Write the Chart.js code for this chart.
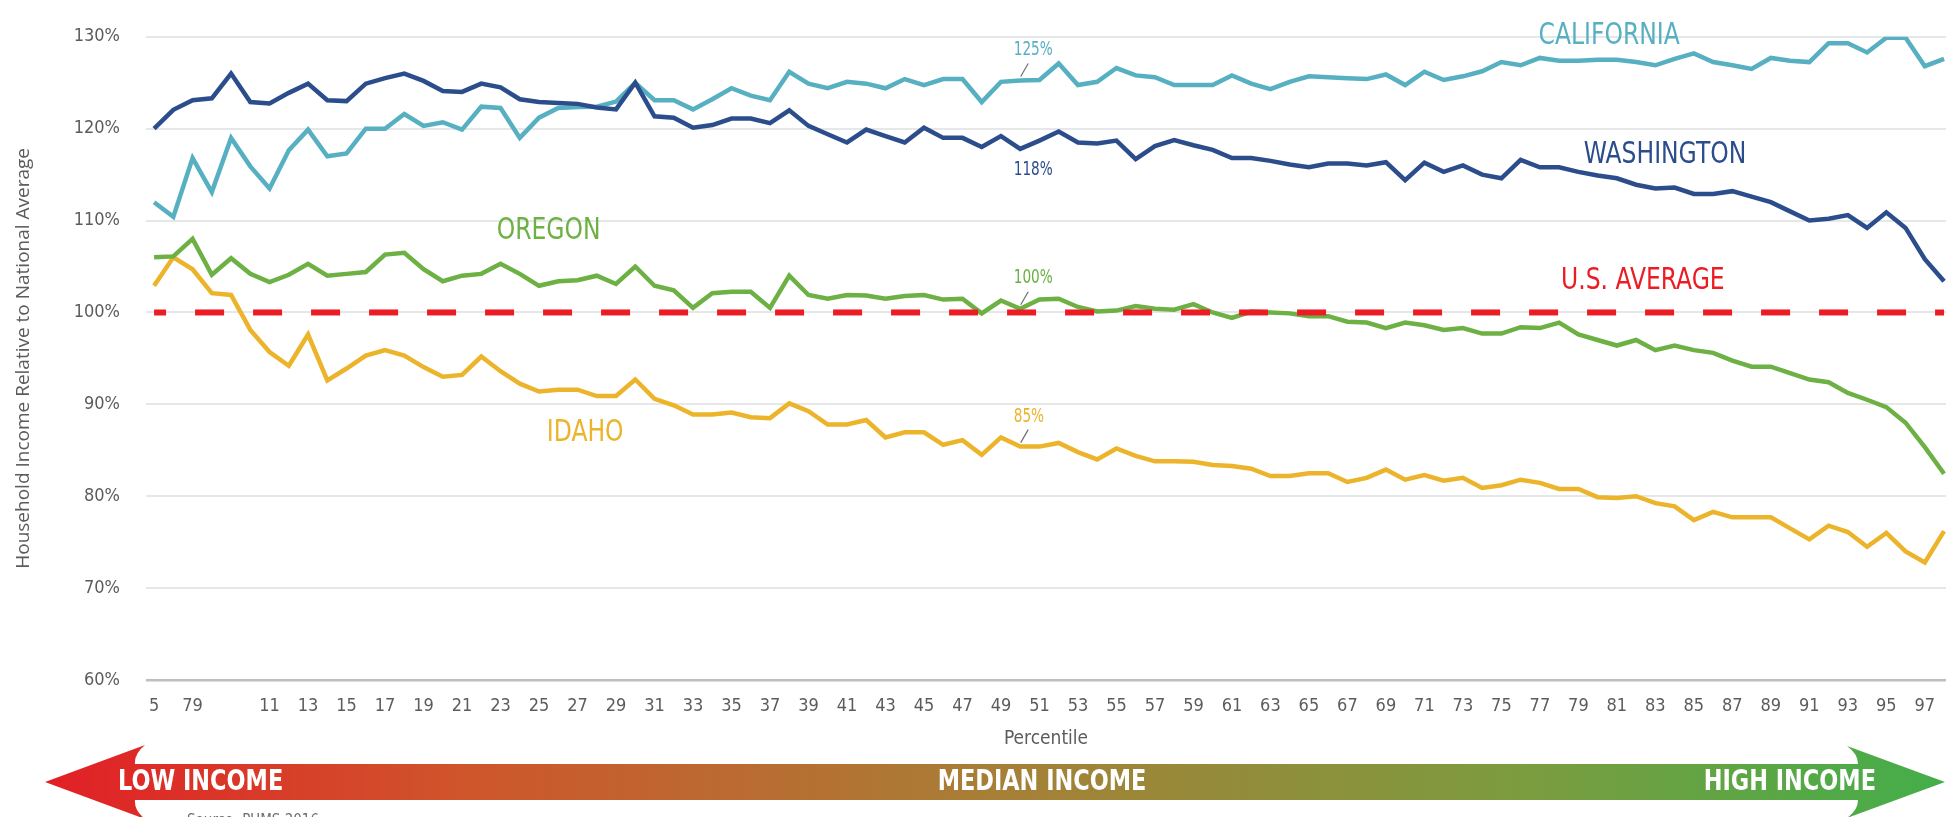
<!DOCTYPE html>
<html>
<head>
<meta charset="utf-8">
<title>Household Income Relative to National Average</title>
<script src="https://cdn.jsdelivr.net/npm/chart.js@4.4.1/dist/chart.umd.min.js"></script>
<style>
  html, body { margin: 0; padding: 0; background: #fff; }
  #chart { display: block; }
</style>
</head>
<body>
<canvas id="chart" width="1955" height="817"></canvas>
<script>
// percentiles 5..98, one point each
const percentiles = [
  5, 6, 7, 8, 9, 10, 11, 12, 13, 14, 15, 16, 17, 18, 19, 20, 21, 22, 23, 24,
  25, 26, 27, 28, 29, 30, 31, 32, 33, 34, 35, 36, 37, 38, 39, 40, 41, 42, 43, 44,
  45, 46, 47, 48, 49, 50, 51, 52, 53, 54, 55, 56, 57, 58, 59, 60, 61, 62, 63, 64,
  65, 66, 67, 68, 69, 70, 71, 72, 73, 74, 75, 76, 77, 78, 79, 80, 81, 82, 83, 84,
  85, 86, 87, 88, 89, 90, 91, 92, 93, 94, 95, 96, 97, 98
];

const california = [
  112.0, 110.4, 116.8, 113.1, 119.0, 115.9, 113.5, 117.65, 119.9, 117.0,
  117.3, 120.0, 120.0, 121.6, 120.3, 120.7, 119.9, 122.4, 122.25, 119.0,
  121.2, 122.25, 122.35, 122.4, 122.95, 125.0, 123.1, 123.1, 122.1, 123.2,
  124.4, 123.6, 123.1, 126.2, 124.9, 124.4, 125.1, 124.9, 124.4, 125.4,
  124.75, 125.4, 125.4, 122.9, 125.1, 125.25, 125.3, 127.1, 124.75, 125.1,
  126.6, 125.8, 125.6, 124.75, 124.75, 124.75, 125.8, 124.9, 124.3, 125.1,
  125.7, 125.6, 125.5, 125.4, 125.9, 124.75, 126.2, 125.3, 125.7, 126.25,
  127.25, 126.9, 127.7, 127.4, 127.4, 127.5, 127.5, 127.25, 126.9, 127.6,
  128.2, 127.25, 126.9, 126.5, 127.7, 127.4, 127.25, 129.3, 129.3, 128.3,
  129.9, 129.9, 126.8, 127.6
];

const washington = [
  120.0, 122.05, 123.1, 123.3, 126.0, 122.9, 122.75, 123.9, 124.9, 123.1,
  123.0, 124.9, 125.5, 126.0, 125.2, 124.1, 124.0, 124.9, 124.5, 123.2,
  122.9, 122.8, 122.7, 122.3, 122.1, 125.0, 121.35, 121.2, 120.1, 120.4,
  121.1, 121.1, 120.6, 122.0, 120.3, 119.4, 118.5, 119.9, 119.2, 118.5,
  120.1, 119.0, 119.0, 118.0, 119.2, 117.8, 118.7, 119.7, 118.5, 118.4,
  118.7, 116.7, 118.1, 118.75, 118.2, 117.7, 116.8, 116.8, 116.5, 116.1,
  115.8, 116.2, 116.2, 116.0, 116.35, 114.4, 116.3, 115.3, 116.0, 115.0,
  114.6, 116.6, 115.8, 115.8, 115.3, 114.9, 114.6, 113.9, 113.5, 113.6,
  112.9, 112.9, 113.2, 112.6, 112.0, 111.0, 110.0, 110.2, 110.6, 109.2,
  110.9, 109.2, 105.8, 103.4
];

const oregon = [
  106.0, 106.1, 108.0, 104.1, 105.9, 104.2, 103.3, 104.1, 105.3, 104.0,
  104.2, 104.4, 106.3, 106.5, 104.7, 103.4, 104.0, 104.2, 105.3, 104.2,
  102.9, 103.4, 103.5, 104.0, 103.1, 105.0, 102.9, 102.4, 100.5, 102.1,
  102.25, 102.25, 100.5, 104.0, 101.9, 101.5, 101.9, 101.85, 101.5, 101.8,
  101.9, 101.4, 101.5, 99.9, 101.3, 100.4, 101.4, 101.5, 100.6, 100.1,
  100.2, 100.7, 100.4, 100.3, 100.9, 100.0, 99.4, 100.1, 100.0, 99.9,
  99.6, 99.6, 99.0, 98.9, 98.3, 98.9, 98.6, 98.1, 98.3, 97.7,
  97.7, 98.4, 98.3, 98.9, 97.6, 97.0, 96.4, 97.0, 95.9, 96.4,
  95.9, 95.6, 94.75, 94.1, 94.1, 93.4, 92.7, 92.4, 91.25, 90.5,
  89.7, 88.0, 85.35, 82.45
];

const idaho = [
  102.9, 106.0, 104.7, 102.1, 101.9, 98.1, 95.7, 94.2, 97.6, 92.6,
  93.9, 95.3, 95.9, 95.3, 94.05, 93.0, 93.2, 95.2, 93.6, 92.25,
  91.4, 91.6, 91.6, 90.9, 90.9, 92.7, 90.6, 89.9, 88.9, 88.9,
  89.1, 88.6, 88.5, 90.1, 89.25, 87.8, 87.8, 88.3, 86.4, 86.95,
  86.95, 85.6, 86.1, 84.5, 86.4, 85.4, 85.4, 85.8, 84.8, 84.0,
  85.2, 84.4, 83.8, 83.8, 83.75, 83.4, 83.3, 83.0, 82.2, 82.2,
  82.5, 82.5, 81.55, 82.0, 82.9, 81.8, 82.3, 81.7, 82.0, 80.9,
  81.2, 81.8, 81.45, 80.8, 80.8, 79.9, 79.8, 80.0, 79.25, 78.9,
  77.4, 78.3, 77.7, 77.7, 77.7, 76.5, 75.3, 76.8, 76.1, 74.5,
  76.0, 74.0, 72.8, 76.2
];

const usAverage = 100;
const medianPercentile = 50;

// x tick labels as printed (7 and 9 ran together in the original)
const xTickValues = [5, 7, 11, 13, 15, 17, 19, 21, 23, 25, 27, 29, 31, 33, 35, 37, 39, 41, 43, 45,
  47, 49, 51, 53, 55, 57, 59, 61, 63, 65, 67, 69, 71, 73, 75, 77, 79, 81, 83, 85, 87, 89, 91, 93, 95, 97];
const xTickText = ['5', '79', '11', '13', '15', '17', '19', '21', '23', '25', '27', '29', '31', '33', '35', '37', '39', '41', '43', '45',
  '47', '49', '51', '53', '55', '57', '59', '61', '63', '65', '67', '69', '71', '73', '75', '77', '79', '81', '83', '85', '87', '89', '91', '93', '95', '97'];

const NARROW = '"Liberation Sans Narrow", "DejaVu Sans Condensed", "Roboto Condensed", sans-serif';
const GRAY = '#5b5c5e';
const COLORS = {
  california: '#57b0c2',
  washington: '#2c4d8c',
  oregon: '#6db044',
  idaho: '#ebb42b',
  us: '#ec1c24'
};

// state names, placed in data units
const stateLabels = [
  { text: 'CALIFORNIA', p: 80.6, v: 130.1, color: COLORS.california },
  { text: 'WASHINGTON', p: 83.5, v: 117.15, color: COLORS.washington },
  { text: 'U.S. AVERAGE', p: 82.35, v: 103.45, color: COLORS.us },
  { text: 'OREGON', p: 25.5, v: 108.8, color: COLORS.oregon },
  { text: 'IDAHO', p: 27.4, v: 86.9, color: COLORS.idaho }
];

// median callouts
const medianLabels = [
  { series: california, color: COLORS.california, dy: -31, leader: true },
  { series: washington, color: COLORS.washington, dy: 21, leader: false },
  { series: oregon, color: COLORS.oregon, dy: -31, leader: true },
  { series: idaho, color: COLORS.idaho, dy: -30, leader: true }
];

function toPoints(values) {
  return percentiles.map((p, i) => ({ x: p, y: values[i] }));
}

// squeeze text horizontally, the original uses a condensed face
function narrowText(ctx, text, x, y, align, sx) {
  ctx.save();
  ctx.translate(x, y);
  ctx.scale(sx, 1);
  ctx.textAlign = align;
  ctx.fillText(text, 0, 0);
  ctx.restore();
}

const labelsPlugin = {
  id: 'labelsPlugin',
  afterDatasetsDraw(chart) {
    const { ctx, scales: { x, y } } = chart;
    ctx.save();
    ctx.textBaseline = 'middle';

    ctx.font = '30px ' + NARROW;
    stateLabels.forEach(l => {
      ctx.fillStyle = l.color;
      narrowText(ctx, l.text, x.getPixelForValue(l.p), y.getPixelForValue(l.v), 'center', 0.87);
    });

    const mi = percentiles.indexOf(medianPercentile);
    const px = x.getPixelForValue(medianPercentile);
    ctx.font = '20px ' + NARROW;
    medianLabels.forEach(l => {
      const val = l.series[mi];
      const py = y.getPixelForValue(val);
      ctx.fillStyle = l.color;
      narrowText(ctx, Math.round(val) + '%', px - 6.5, py + l.dy, 'left', 0.76);
      if (l.leader) {
        ctx.strokeStyle = '#6d6e71';
        ctx.lineWidth = 1.2;
        ctx.beginPath();
        ctx.moveTo(px + 8, py - 17);
        ctx.lineTo(px + 0.5, py - 4);
        ctx.stroke();
      }
    });
    ctx.restore();
  },
  afterDraw(chart) {
    // low -> high income arrow under the axis
    const { ctx } = chart;
    ctx.save();
    const g = ctx.createLinearGradient(45, 0, 1945, 0);
    g.addColorStop(0, '#e21f26');
    g.addColorStop(0.22, '#cf552b');
    g.addColorStop(0.5, '#a77f36');
    g.addColorStop(0.78, '#7b9c3f');
    g.addColorStop(1, '#43ae4a');
    ctx.fillStyle = g;
    ctx.beginPath();
    ctx.moveTo(45, 782);
    ctx.lineTo(145, 745);
    ctx.quadraticCurveTo(134, 754, 135, 764);
    ctx.lineTo(1858, 764);
    ctx.quadraticCurveTo(1858, 754, 1847, 746);
    ctx.lineTo(1945, 782);
    ctx.lineTo(1847, 818);
    ctx.quadraticCurveTo(1858, 810, 1858, 800);
    ctx.lineTo(135, 800);
    ctx.quadraticCurveTo(134, 810, 145, 819);
    ctx.closePath();
    ctx.fill();

    ctx.fillStyle = '#ffffff';
    ctx.font = 'bold 28px ' + NARROW;
    ctx.textBaseline = 'middle';
    narrowText(ctx, 'LOW INCOME', 118, 783, 'left', 0.89);
    narrowText(ctx, 'MEDIAN INCOME', 1042, 783, 'center', 0.89);
    narrowText(ctx, 'HIGH INCOME', 1876, 783, 'right', 0.89);

    ctx.fillStyle = '#6d6e71';
    ctx.font = '15px ' + NARROW;
    ctx.textAlign = 'left';
    ctx.textBaseline = 'top';
    ctx.fillText('Source: PUMS 2016', 187, 814);
    ctx.restore();
  }
};

function line(label, values, color) {
  return {
    label: label,
    data: toPoints(values),
    borderColor: color,
    backgroundColor: color,
    borderWidth: 4.5,
    borderJoinStyle: 'miter',
    pointRadius: 0,
    tension: 0,
    order: 1
  };
}

new Chart(document.getElementById('chart'), {
  type: 'line',
  data: {
    datasets: [
      {
        label: 'U.S. Average',
        data: [{ x: percentiles[0], y: usAverage }, { x: percentiles[percentiles.length - 1], y: usAverage }],
        borderColor: COLORS.us,
        borderWidth: 6,
        borderDash: [29, 29],
        borderDashOffset: 17,
        borderCapStyle: 'butt',
        pointRadius: 0,
        order: 0
      },
      line('Washington', washington, COLORS.washington),
      line('California', california, COLORS.california),
      line('Oregon', oregon, COLORS.oregon),
      line('Idaho', idaho, COLORS.idaho)
    ]
  },
  options: {
    responsive: false,
    animation: false,
    devicePixelRatio: 1,
    layout: { padding: { top: 26, right: 9, bottom: 57, left: 0 } },
    plugins: {
      legend: { display: false },
      tooltip: { enabled: false }
    },
    scales: {
      x: {
        type: 'linear',
        min: 4.58,
        max: 98.1,
        afterFit: (scale) => { scale.height = 80; },
        afterBuildTicks: (scale) => { scale.ticks = xTickValues.map(v => ({ value: v })); },
        grid: { display: false, drawTicks: false },
        border: { display: false },
        ticks: {
          autoSkip: false,
          maxRotation: 0,
          padding: 16,
          color: GRAY,
          font: { family: NARROW, size: 18 },
          callback: (value) => xTickText[xTickValues.indexOf(value)]
        },
        title: {
          display: true,
          text: 'Percentile',
          color: GRAY,
          font: { family: NARROW, size: 19 },
          padding: { top: 0, bottom: 10 }
        }
      },
      y: {
        min: 60,
        max: 130,
        afterFit: (scale) => { scale.width = 146; },
        grid: {
          drawTicks: false,
          lineWidth: (c) => c.tick && c.tick.value === 60 ? 2.5 : 2,
          color: (c) => c.tick && c.tick.value === 60 ? '#bcbec0' : '#e6e7e8'
        },
        border: { display: false },
        ticks: {
          stepSize: 10,
          padding: 26,
          color: GRAY,
          font: { family: NARROW, size: 18 },
          callback: (v) => v + '%'
        },
        title: {
          display: true,
          text: 'Household Income Relative to National Average',
          color: GRAY,
          font: { family: '"Open Sans", sans-serif', size: 19 },
          padding: { top: 12, bottom: 0 }
        }
      }
    }
  },
  plugins: [labelsPlugin]
});
</script>
</body>
</html>
